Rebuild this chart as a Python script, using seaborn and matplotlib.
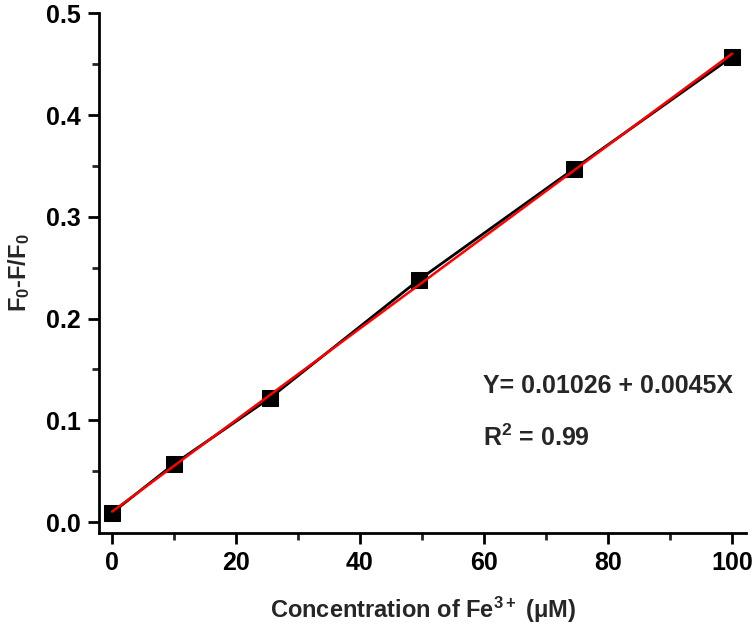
import numpy as np
import pandas as pd
import seaborn as sns
import matplotlib
matplotlib.use("Agg")
import matplotlib.pyplot as plt
from matplotlib.ticker import MultipleLocator

conc = [0, 10, 25.5, 49.5, 74.5, 100]
ratio = [0.009, 0.057, 0.122, 0.238, 0.347, 0.457]
fit_intercept = 0.01026
fit_slope = 0.0045
fit_x = [0, 100]

sns.set_theme(style="ticks")
plt.rcParams['font.family'] = ['Liberation Sans', 'DejaVu Sans']
plt.rcParams['mathtext.fontset'] = 'custom'
plt.rcParams['mathtext.rm'] = 'Liberation Sans:bold'
plt.rcParams['mathtext.it'] = 'Liberation Sans:bold'
plt.rcParams['mathtext.bf'] = 'Liberation Sans:bold'

df = pd.DataFrame({"conc": conc, "ratio": ratio})
fit_df = pd.DataFrame({"x": fit_x, "y": [fit_intercept + fit_slope * v for v in fit_x]})

fig = plt.figure(figsize=(7.56, 6.31), dpi=100)
ax = fig.add_axes([0.131, 0.155, 0.856, 0.824])

sns.lineplot(data=df, x="conc", y="ratio", ax=ax, color="black", linewidth=2,
             marker="s", markersize=11, markeredgecolor="black", markerfacecolor="black")
sns.lineplot(data=fit_df, x="x", y="y", ax=ax, color="#ff0000", linewidth=1.8)

ax.set_xlim(-2.1, 102.3)
ax.set_ylim(-0.011, 0.5)
ax.xaxis.set_minor_locator(MultipleLocator(10))
ax.yaxis.set_minor_locator(MultipleLocator(0.05))
ax.set_xticks([0, 20, 40, 60, 80, 100])
ax.set_xticklabels(["0", "20", "40", "60", "80", "100"])
ax.set_yticks([0.0, 0.1, 0.2, 0.3, 0.4, 0.5])
ax.set_yticklabels(["0.0", "0.1", "0.2", "0.3", "0.4", "0.5"])

for s in ["top", "right"]:
    ax.spines[s].set_visible(False)
for s in ["left", "bottom"]:
    ax.spines[s].set_linewidth(2)
    ax.spines[s].set_color("black")
ax.tick_params(which="major", direction="out", length=8, width=2, labelsize=18, pad=5, colors="black")
ax.tick_params(which="minor", direction="out", length=5, width=2)
for lab in ax.get_xticklabels() + ax.get_yticklabels():
    lab.set_fontweight("bold")

ax.set_xlabel("Concentration of Fe$^{3+}$ (\u03bcM)", fontsize=17, fontweight="bold", labelpad=14)
ax.set_ylabel("F$_0$-F/F$_0$", fontsize=17, fontweight="bold", labelpad=10)

ax.text(59.8, 0.127, "Y= 0.01026 + 0.0045X", fontsize=18, fontweight="bold")
ax.text(59.8, 0.075, "R$^2$ = 0.99", fontsize=18, fontweight="bold")

fig.savefig("out.png", dpi=100)
